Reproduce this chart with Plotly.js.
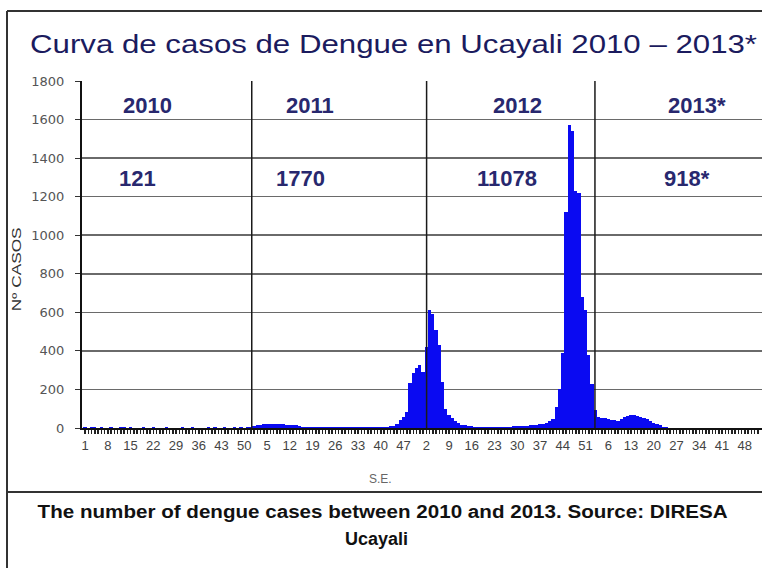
<!DOCTYPE html>
<html>
<head>
<meta charset="utf-8">
<script src="https://cdn.plot.ly/plotly-3.0.1.min.js"></script>
<style>
html,body{margin:0;padding:0;background:#fff;}
#chart{width:762px;height:568px;}
</style>
</head>
<body>
<div id="chart"></div>
<script>
// Weekly dengue cases (S.E. = semana epidemiológica), Ucayali
const cases2010 = [3,2,4,3,2,3,2,1,3,2,2,3,4,2,3,2,1,2,3,2,2,3,2,1,2,3,2,2,1,2,3,2,2,3,2,2,1,2,3,2,3,2,2,3,2,2,3,2,3,2,3,4];
const cases2011 = [8,14,18,20,22,21,20,22,20,19,18,17,15,16,10,6,
  4,3,4,3,3,4,3,3,4,3,4,3,3,4,3,3,4,3,4,4,5,4,5,5,6,7,
  9,12,20,40,55,85,235,285,310,325];
const cases2012 = [290,420,610,590,510,430,240,100,70,50,36,26,18,13,10,
  8,7,7,6,6,5,6,5,5,6,6,7,7,8,9,10,11,12,14,16,
  18,20,22,28,36,45,110,200,390,1120,1570,1540,1230,1220,680,610,380];
const cases2013 = [230,95,55,52,50,46,42,40,34,45,58,64,68,66,62,58,50,45,38,28,22,14,7,3,
  0,0,0,0,0,0,0,0,0,0,0,0,0,0,0,0,0,0,0,0,0,0,0,0,0,0,0,0];

const tickLabels = ['1','8','15','22','29','36','43','50',
  '5','12','19','26','33','40','47',
  '2','9','16','23','30','37','44','51',
  '6','13','20','27','34','41','48'];
const yearLabels = ['2010','2011','2012','2013*'];
const yearTotals = ['121','1770','11078','918*'];

const allCases = cases2010.concat(cases2011, cases2012, cases2013);
const weekIdx = allCases.map((_, i) => i + 1);

// ticks at every week, labels every 7th week
const tickVals = weekIdx.slice();
const tickText = weekIdx.map(i => ((i - 1) % 7 === 0) ? tickLabels[(i - 1) / 7] : '');

// layout geometry (pixels)
const W = 762, H = 568, L = 82, T = 81, B = 140, R = 0;
const PW = W - L - R, PH = H - T - B;
const px = x => (x - L) / PW;
const py = y => (H - B - y) / PH;

const sepX = [52.3, 106.1, 157.9];
const yearLabelX = [147, 310, 517, 697];

const FONT = 'Liberation Sans, Arial, sans-serif';
const textColor = '#28286e';
const annotations = [];
yearLabels.forEach((t, i) => {
  annotations.push({xref:'paper', yref:'paper', x:px(yearLabelX[i]), y:py(105), text:t, showarrow:false,
    xanchor:'center', yanchor:'middle', font:{family:FONT, size:22, color:textColor, weight:'bold'}});
  annotations.push({xref:'paper', yref:'paper', x:px(yearLabelX[i] - 10), y:py(178), text:yearTotals[i], showarrow:false,
    xanchor:'center', yanchor:'middle', font:{family:FONT, size:22, color:textColor, weight:'bold'}});
});
annotations.push({xref:'paper', yref:'paper', x:px(16), y:py(269), text:'Nº CASOS', textangle:-90, showarrow:false,
  xanchor:'center', yanchor:'middle', font:{family:FONT, size:13, color:'#333'}});
annotations.push({xref:'paper', yref:'paper', x:px(380), y:py(479), text:'S.E.', showarrow:false,
  xanchor:'center', yanchor:'middle', font:{family:FONT, size:12, color:'#666'}});
annotations.push({xref:'paper', yref:'paper', x:px(382), y:py(512), text:'The number of dengue cases between 2010 and 2013. Source: DIRESA', showarrow:false,
  xanchor:'center', yanchor:'middle', font:{family:FONT, size:18, color:'#111', weight:'bold'}});
annotations.push({xref:'paper', yref:'paper', x:px(376), y:py(539), text:'Ucayali', showarrow:false,
  xanchor:'center', yanchor:'middle', font:{family:FONT, size:18, color:'#111', weight:'bold'}});

const shapes = [];
sepX.forEach(x => shapes.push({type:'line', xref:'x', yref:'paper', x0:x, x1:x, y0:0, y1:1,
  line:{color:'#1a1a1a', width:1.5}, layer:'above'}));
// frame of the figure
const frame = {color:'#333', width:2};
shapes.push({type:'line', xref:'paper', yref:'paper', x0:px(7), x1:px(7), y0:py(11), y1:py(568), line:frame});
shapes.push({type:'line', xref:'paper', yref:'paper', x0:px(7), x1:px(762), y0:py(11), y1:py(11), line:frame});
shapes.push({type:'line', xref:'paper', yref:'paper', x0:px(7), x1:px(762), y0:py(492), y1:py(492), line:frame});

const data = [{
  type:'bar', x:weekIdx, y:allCases,
  marker:{color:'#0a0af2', line:{width:0}},
  hoverinfo:'x+y'
}];

const layout = {
  width:W, height:H,
  margin:{l:L, r:R, t:T, b:B, pad:0},
  paper_bgcolor:'#fff', plot_bgcolor:'#fff',
  bargap:0,
  showlegend:false,
  title:{text:'Curva de casos de Dengue en Ucayali 2010 – 2013*', x:30/W, xanchor:'left', y:1 - 44/H, yanchor:'middle',
    font:{family:FONT, size:26, color:'#1b1b5e'}},
  xaxis:{range:[0.07, 209.3], showgrid:false, zeroline:false, showline:true, linecolor:'#111', linewidth:2,
    tickmode:'array', tickvals:tickVals, ticktext:tickText, ticks:'outside', ticklen:4, tickwidth:1.5, tickcolor:'#222',
    tickangle:0, tickfont:{family:FONT, size:13, color:'#444'}, fixedrange:true},
  yaxis:{range:[0, 1800], dtick:200, tick0:0, showgrid:true, gridcolor:'#6a6a6a', gridwidth:1.5, zeroline:false,
    showline:true, linecolor:'#111', linewidth:2, ticks:'outside', ticklen:5, tickcolor:'#333', ticklabelstandoff:8,
    tickfont:{family:'DejaVu Sans, sans-serif', size:13, color:'#555'}, fixedrange:true},
  annotations:annotations,
  shapes:shapes
};

function stretch(el, len) {
  if (!el) return;
  el.setAttribute('textLength', len);
  el.setAttribute('lengthAdjust', 'spacingAndGlyphs');
}

Plotly.newPlot('chart', data, layout, {displayModeBar:false, staticPlot:true}).then(gd => {
  stretch(gd.querySelector('.gtitle'), 727);
  gd.querySelectorAll('.annotation-text').forEach(el => {
    const t = el.textContent;
    if (t.indexOf('The number of dengue') === 0) stretch(el, 690);
    if (t === 'Nº CASOS') stretch(el, 84);
  });
});
</script>
</body>
</html>
